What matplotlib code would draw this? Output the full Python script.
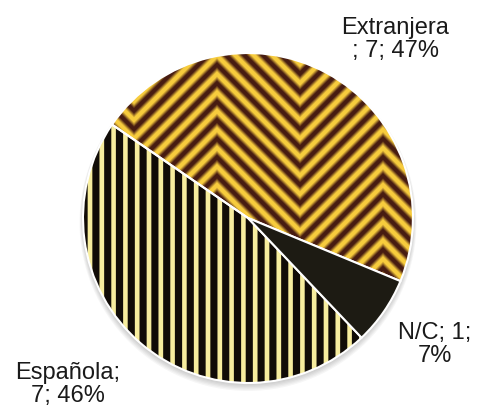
#!/usr/bin/env python3
"""Pie chart: origin of respondents (Extranjera / Española / N/C)."""
import matplotlib
matplotlib.use("Agg")
import matplotlib.pyplot as plt
import numpy as np
from matplotlib.patches import Circle

# data
labels = ["Extranjera", "Española", "N/C"]
counts = [7, 7, 1]
percents = ["47%", "46%", "7%"]
# the chart wraps each label differently
label_templates = ["{name}\n; {n}; {p}", "{name};\n{n}; {p}", "{name}; {n};\n{p}"]

W, H = 483, 408
plt.rcParams['font.family'] = ['Liberation Sans', 'DejaVu Sans']

fig = plt.figure(figsize=(W / 100, H / 100), dpi=100)
ax = fig.add_axes([0, 0, 1, 1])

cx, cy, r = 248, H - 218, 165

# soft shadow under the pie
for i in range(6):
    ax.add_patch(Circle((cx, cy - 1.5 - i * 0.6), r + i * 0.7, facecolor='black',
                        edgecolor='none', alpha=0.035, zorder=0))

wedges, _ = ax.pie(counts, startangle=-22.5, counterclock=True, center=(cx, cy), radius=r,
                   wedgeprops=dict(edgecolor='white', linewidth=1.5), frame=True)

# textures (pixel grid, image coordinates)
yy, xx = np.mgrid[0:H, 0:W] + 0.5

# chevron pattern for "Extranjera"
peak0, half = 217, 83
d = np.abs(((xx - peak0) + half) % (2 * half) - half)
t = 0.5 + 0.5 * np.cos(2 * np.pi * (yy - d) / 18.5)
t = np.clip((t - 0.1) / 0.8, 0, 1)
dark = np.array([0.28, 0.11, 0.07])
gold = np.array([0.97, 0.80, 0.24])
chev = dark + (gold - dark) * t[..., None]

# vertical stripes for "Española"
tv = np.cos(2 * np.pi * (xx - 90) / 11.8)
tv = np.clip((tv - 0.05) / 0.55, 0, 1)
black = np.array([0.07, 0.05, 0.03])
pale = np.array([0.97, 0.93, 0.62])
vert = black + (pale - black) * tv[..., None]

for wedge, tex in zip(wedges[:2], [chev, vert]):
    wedge.set_facecolor('none')
    wedge.set_zorder(3)
    im = ax.imshow(tex, extent=(0, W, 0, H), origin='upper', interpolation='bilinear',
                   aspect='auto', zorder=2)
    im.set_clip_path(wedge)

wedges[2].set_facecolor('#1d1b13')
wedges[2].set_zorder(3)

# labels (va='baseline' aligns the last line)
text_pos = [(395, H - 57), (68, H - 402), (435, H - 362)]
for name, n, p, tpl, (tx, ty) in zip(labels, counts, percents, label_templates, text_pos):
    ax.text(tx, ty, tpl.format(name=name, n=n, p=p), ha='center', va='baseline',
            fontsize=17, color='#1a1a1a', linespacing=1.05, zorder=5)

ax.set_xlim(0, W)
ax.set_ylim(0, H)
ax.set_aspect('auto')
ax.axis('off')

fig.savefig("out.png", dpi=100)
plt.close(fig)
print("Saved: out.png")
